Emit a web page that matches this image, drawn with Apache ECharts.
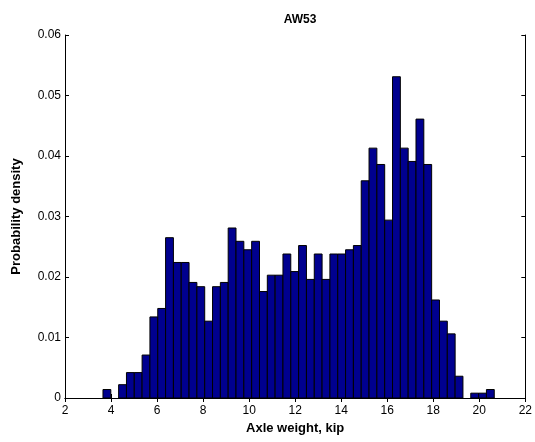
<!DOCTYPE html>
<html>
<head>
<meta charset="utf-8">
<script src="https://cdn.jsdelivr.net/npm/echarts@6/dist/echarts.min.js"></script>
<style>
  html, body { margin: 0; padding: 0; background: #fff; }
  #chart { width: 535px; height: 442px; }
</style>
</head>
<body>
<div id="chart"></div>
<script>
// Histogram of axle weights (kip), normalised to probability density
const binStart = 3.65;   // left edge of the first bin
const binWidth = 0.34;   // width of every bin
const densities = [
  0.0014, 0, 0.0022, 0.0042, 0.0042, 0.0071, 0.0134, 0.0148, 0.0265, 0.0224,
  0.0224, 0.0191, 0.0184, 0.0127, 0.0184, 0.0191, 0.0281, 0.0259, 0.0245, 0.0259,
  0.0176, 0.0203, 0.0203, 0.0238, 0.0209, 0.0252, 0.0196, 0.0238, 0.0196, 0.0238,
  0.0238, 0.0245, 0.0252, 0.0359, 0.0413, 0.0386, 0.0294, 0.0531, 0.0413, 0.0391,
  0.0461, 0.0386, 0.0162, 0.0127, 0.0106, 0.0036, 0, 0.0008, 0.0008, 0.0014
];
const xTicks = [2, 4, 6, 8, 10, 12, 14, 16, 18, 20, 22];
const yTicks = [0, 0.01, 0.02, 0.03, 0.04, 0.05, 0.06];

const binData = [];
densities.forEach((d, i) => {
  if (d > 0) {
    const left = binStart + i * binWidth;
    binData.push([left, left + binWidth, d]);
  }
});

const font = 'Arial, "Liberation Sans", Helvetica, sans-serif';
const axisLine = { show: true, lineStyle: { color: '#000', width: 1 } };
const innerTicks = { show: true, inside: true, length: 4, lineStyle: { color: '#000' } };

const chart = echarts.init(document.getElementById('chart'), null, { renderer: 'canvas' });
chart.setOption({
  animation: false,
  backgroundColor: '#fff',
  title: {
    text: 'AW53',
    left: 295, top: 9, textAlign: 'center',
    textStyle: { fontFamily: font, fontSize: 12, fontWeight: 'bold', color: '#000' }
  },
  grid: { left: 65, right: 9, top: 35, bottom: 44, containLabel: false },
  xAxis: [
    {
      type: 'value', min: xTicks[0], max: xTicks[xTicks.length - 1], interval: 2,
      position: 'bottom',
      name: 'Axle weight, kip', nameLocation: 'middle', nameGap: 24,
      nameTextStyle: { fontFamily: font, fontSize: 13, fontWeight: 'bold', color: '#000' },
      axisLine, axisTick: innerTicks,
      axisLabel: { fontFamily: font, fontSize: 12, color: '#000', margin: 7 },
      splitLine: { show: false }
    },
    {
      type: 'value', min: xTicks[0], max: xTicks[xTicks.length - 1], interval: 2,
      position: 'top',
      axisLine, axisTick: innerTicks, axisLabel: { show: false }, splitLine: { show: false }
    }
  ],
  yAxis: [
    {
      type: 'value', min: yTicks[0], max: yTicks[yTicks.length - 1], interval: 0.01,
      position: 'left',
      name: 'Probability density', nameLocation: 'middle', nameGap: 42, nameRotate: 90,
      nameTextStyle: { fontFamily: font, fontSize: 13, fontWeight: 'bold', color: '#000' },
      axisLine, axisTick: innerTicks,
      axisLabel: { fontFamily: font, fontSize: 12, color: '#000', margin: 4 },
      splitLine: { show: false }
    },
    {
      type: 'value', min: yTicks[0], max: yTicks[yTicks.length - 1], interval: 0.01,
      position: 'right',
      axisLine, axisTick: innerTicks, axisLabel: { show: false }, splitLine: { show: false }
    }
  ],
  series: [{
    type: 'custom',
    xAxisIndex: 0, yAxisIndex: 0,
    encode: { x: [0, 1], y: 2 },
    data: binData,
    renderItem: function (params, api) {
      const topLeft = api.coord([api.value(0), api.value(2)]);
      const bottomRight = api.coord([api.value(1), 0]);
      return {
        type: 'rect',
        shape: {
          x: topLeft[0], y: topLeft[1],
          width: bottomRight[0] - topLeft[0],
          height: bottomRight[1] - topLeft[1]
        },
        style: { fill: '#00008f', stroke: '#000', lineWidth: 1 }
      };
    }
  }]
});
</script>
</body>
</html>
